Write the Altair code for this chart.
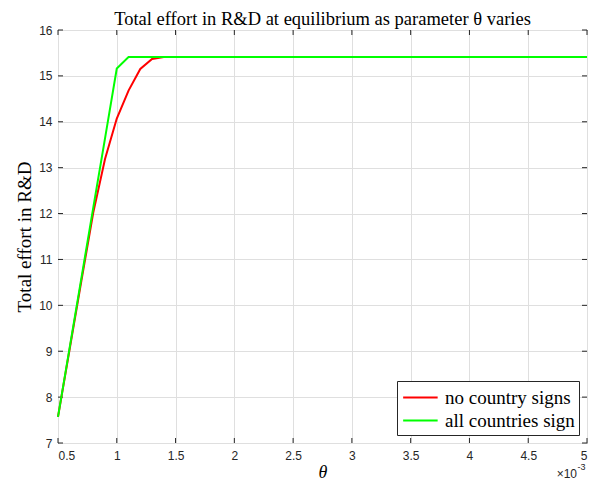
import altair as alt
import pandas as pd

# ---- data (theta in units of 1e-3) ----
theta = [0.5, 0.6, 0.7, 0.8, 0.9, 1.0, 1.1, 1.2, 1.3, 1.4, 1.5, 1.6, 1.7, 1.8, 1.9,
         2.0, 2.1, 2.2, 2.3, 2.4, 2.5, 2.6, 2.7, 2.8, 2.9, 3.0, 3.1, 3.2, 3.3, 3.4,
         3.5, 3.6, 3.7, 3.8, 3.9, 4.0, 4.1, 4.2, 4.3, 4.4, 4.5, 4.6, 4.7, 4.8, 4.9, 5.0]
no_sign = [7.57, 9.06, 10.55, 12.02, 13.19, 14.07, 14.68, 15.15, 15.37, 15.41,
           15.41, 15.41, 15.41, 15.41, 15.41, 15.41, 15.41, 15.41, 15.41, 15.41,
           15.41, 15.41, 15.41, 15.41, 15.41, 15.41, 15.41, 15.41, 15.41, 15.41,
           15.41, 15.41, 15.41, 15.41, 15.41, 15.41, 15.41, 15.41, 15.41, 15.41,
           15.41, 15.41, 15.41, 15.41, 15.41, 15.41]
all_sign = [7.57, 9.09, 10.61, 12.13, 13.64, 15.16, 15.41, 15.41, 15.41, 15.41,
            15.41, 15.41, 15.41, 15.41, 15.41, 15.41, 15.41, 15.41, 15.41, 15.41,
            15.41, 15.41, 15.41, 15.41, 15.41, 15.41, 15.41, 15.41, 15.41, 15.41,
            15.41, 15.41, 15.41, 15.41, 15.41, 15.41, 15.41, 15.41, 15.41, 15.41,
            15.41, 15.41, 15.41, 15.41, 15.41, 15.41]
series_names = ["no country signs", "all countries sign"]
series_colors = ["#ff0000", "#00ff00"]
x_ticks = [0.5, 1.0, 1.5, 2.0, 2.5, 3.0, 3.5, 4.0, 4.5, 5.0]
y_ticks = [7, 8, 9, 10, 11, 12, 13, 14, 15, 16]
title_text = "Total effort in R&D at equilibrium as parameter θ varies"
y_title = "Total effort in R&D"
x_title = "θ"

W, H = 529, 413
AX = "#262626"
SERIF = "Liberation Serif"
SANS = "Liberation Sans"

df = pd.DataFrame({
    "theta": theta * 2,
    "effort": no_sign + all_sign,
    "series": [series_names[0]] * len(theta) + [series_names[1]] * len(theta),
})
df_xt = pd.DataFrame({"t": x_ticks})
df_yt = pd.DataFrame({"t": y_ticks})

xs = alt.Scale(domain=[0.5, 5], nice=False, zero=False)
ys = alt.Scale(domain=[7, 16], nice=False, zero=False)

x_axis = alt.Axis(values=x_ticks, format="~g", grid=True, gridColor="#dfdfdf",
                  ticks=False, domain=False, labelFont=SANS, labelFontSize=12,
                  labelColor=AX, labelPadding=7, title=x_title, titleFont=SERIF,
                  titleFontStyle="italic", titleFontSize=18, titleFontWeight="normal",
                  titleColor="black", titlePadding=2)
y_axis = alt.Axis(values=y_ticks, format="d", grid=True, gridColor="#dfdfdf",
                  ticks=False, domain=False, labelFont=SANS, labelFontSize=12,
                  labelColor=AX, labelPadding=6, title=y_title, titleFont=SERIF,
                  titleFontSize=19, titleFontWeight="normal", titleColor="black",
                  titlePadding=4)

X = lambda f: alt.X(f, scale=xs, axis=x_axis)
Y = lambda f: alt.Y(f, scale=ys, axis=y_axis)

color = alt.Color("series:N", scale=alt.Scale(domain=series_names, range=series_colors),
                  legend=alt.Legend(title=None, orient="bottom-right", offset=8,
                                    strokeColor=AX, fillColor="white", padding=4,
                                    symbolType="M-0.9,0H2.1", symbolSize=529,
                                    symbolStrokeWidth=2, labelFont=SERIF,
                                    labelFontSize=19, labelColor="black",
                                    labelOffset=19, rowPadding=0))

tick_b = alt.Chart(df_xt).mark_rule(color=AX, strokeWidth=1).encode(
    x=X("t:Q"), y=alt.value(H), y2=alt.value(H - 5))
tick_t = alt.Chart(df_xt).mark_rule(color=AX, strokeWidth=1).encode(
    x=X("t:Q"), y=alt.value(0), y2=alt.value(5))
tick_l = alt.Chart(df_yt).mark_rule(color=AX, strokeWidth=1).encode(
    y=Y("t:Q"), x=alt.value(0), x2=alt.value(5))
tick_r = alt.Chart(df_yt).mark_rule(color=AX, strokeWidth=1).encode(
    y=Y("t:Q"), x=alt.value(W), x2=alt.value(W - 5))

line_red = alt.Chart(df).transform_filter(
    alt.datum.series == series_names[0]).mark_line(strokeWidth=2).encode(
    x=X("theta:Q"), y=Y("effort:Q"), color=color)
line_green = alt.Chart(df).transform_filter(
    alt.datum.series == series_names[1]).mark_line(strokeWidth=2).encode(
    x=X("theta:Q"), y=Y("effort:Q"), color=color)

title_mark = alt.Chart(pd.DataFrame({"txt": [title_text]})).mark_text(
    align="center", baseline="alphabetic", font=SERIF, fontSize=18.5, color="black").encode(
    x=alt.value(W / 2), y=alt.value(-5.5), text="txt:N")
mult = alt.Chart(pd.DataFrame({"txt": ["×10"]})).mark_text(
    align="right", baseline="alphabetic", font=SANS, fontSize=12, color=AX).encode(
    x=alt.value(W - 10), y=alt.value(H + 35), text="txt:N")
expo = alt.Chart(pd.DataFrame({"txt": ["-3"]})).mark_text(
    align="left", baseline="alphabetic", font=SANS, fontSize=9, color=AX).encode(
    x=alt.value(W - 9.5), y=alt.value(H + 27), text="txt:N")

chart = alt.layer(tick_b, tick_t, tick_l, tick_r, line_red, line_green,
                  title_mark, mult, expo).properties(
    width=W, height=H,
    padding={"left": 50, "top": 22, "right": 1, "bottom": 38},
    autosize=alt.AutoSizeParams(type="none"),
).configure_view(stroke=AX, strokeWidth=1)

chart.save("out.html", embed_options={"renderer": "svg", "actions": False})
